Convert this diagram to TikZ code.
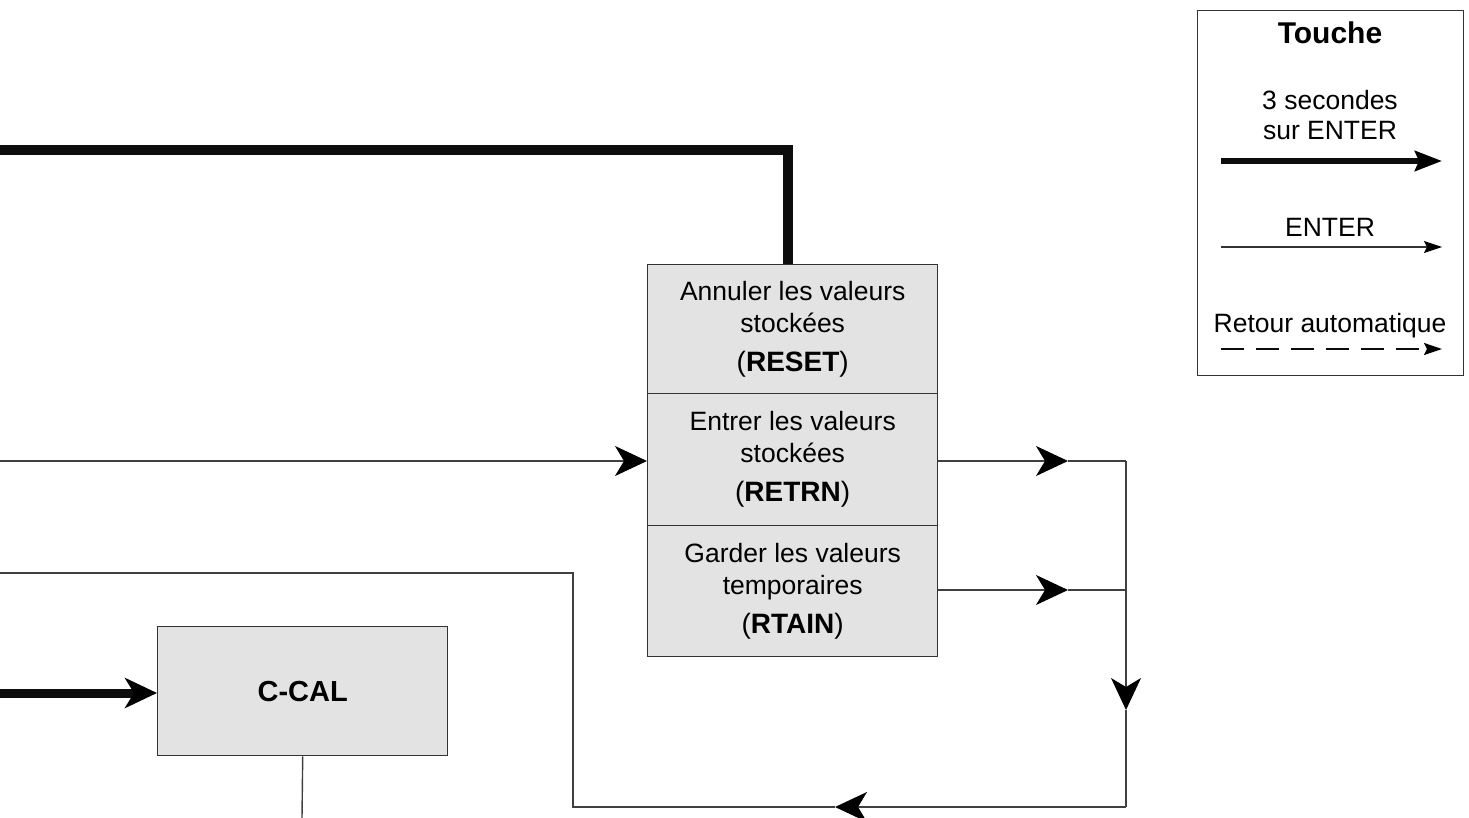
\documentclass[tikz,border=0pt]{standalone}
\usepackage{fontspec}
\setmainfont{Liberation Sans}
\usetikzlibrary{arrows.meta}
\begin{document}
\begin{tikzpicture}[x=1pt,y=-1pt,
  line join=miter,
  bigtip/.tip={Stealth[length=32pt,width=30pt,inset=9pt,color=black]},
  legthick/.tip={Stealth[length=27pt,width=20pt,inset=4pt,color=black]},
  legthin/.tip={Stealth[length=18pt,width=12pt,inset=3pt,color=black]},
  thinline/.style={line width=1.4pt, draw=black!75},
  heavyline/.style={line width=10pt, draw=black!95},
  rowbox/.style={draw=black!80, line width=1.4pt, fill=gray!22, anchor=north west,
    minimum width=290pt, inner sep=0pt, align=center,
    font=\fontsize{26.5}{32}\selectfont},
  keytext/.style={anchor=base, inner sep=0pt, font=\fontsize{26.5}{32}\selectfont}
]
\useasboundingbox (0,0) rectangle (1469,818);

% main box rows
\node[rowbox, minimum height=129pt] (r1) at (647,264)
  {Annuler les valeurs\\stockées\\[7pt]{\fontsize{28}{32}\selectfont(\textbf{RESET})}};
\node[rowbox, minimum height=132pt] (r2) at (647,393)
  {Entrer les valeurs\\stockées\\[7pt]{\fontsize{28}{32}\selectfont(\textbf{RETRN})}};
\node[rowbox, minimum height=131pt] (r3) at (647,525)
  {Garder les valeurs\\temporaires\\[7pt]{\fontsize{28}{32}\selectfont(\textbf{RTAIN})}};

% C-CAL box
\node[rowbox, minimum height=129pt, font=\fontsize{29}{32}\selectfont\bfseries] (cc) at (157,626) {C-CAL};

% coordinates
\coordinate (tl) at (0,150);
\coordinate (tc) at (788,150);
\coordinate (el) at (0,461);
\coordinate (ci) at (0,693);
\coordinate (a1) at (1068,461);
\coordinate (j1) at (1126,461);
\coordinate (a2) at (1068,590);
\coordinate (j2) at (1126,590);
\coordinate (a3) at (1126,710);
\coordinate (j3) at (1126,807);
\coordinate (a4) at (835,807);
\coordinate (j4) at (573,807);
\coordinate (j5) at (573,573);
\coordinate (le) at (0,573);
\coordinate (cb) at (302,818);

% connectors
\draw[heavyline] (tl) -- (tc) -- (tc |- r1.north);
\draw[thinline, -{bigtip}] (el) -- (el -| r2.west);
\draw[thinline, -{bigtip}] (a1 -| r2.east) -- (a1);
\draw[thinline] (a1) -- (j1);
\draw[thinline, -{bigtip}] (a2 -| r3.east) -- (a2);
\draw[thinline] (a2) -- (j2);
\draw[thinline, -{bigtip}] (j1) -- (a3);
\draw[thinline] (a3) -- (j3);
\draw[thinline, -{bigtip}] (j3) -- (a4);
\draw[thinline] (a4) -- (j4) -- (j5) -- (le);
\draw[heavyline, line width=9pt, -{bigtip}] (ci) -- (ci -| cc.west);
\draw[thinline] (cc.south) -- (cb);

% legend
\node[draw=black!80, line width=1.4pt, anchor=north west, minimum width=266pt,
  minimum height=365pt, inner sep=0pt] (leg) at (1197,10) {};
\node[keytext, font=\fontsize{30}{32}\selectfont\bfseries] (lt) at (1330,44) {Touche};
\node[keytext] (l1a) at (1330,109.5) {3 secondes};
\node[keytext] (l1b) at (1330,139.5) {sur ENTER};
\node[keytext] (l2) at (1330,236.5) {ENTER};
\node[keytext] (l3) at (1330,332.5) {Retour automatique};
\coordinate (k1s) at (1221,161);
\coordinate (k1e) at (1442,161);
\coordinate (k2s) at (1221,247);
\coordinate (k2e) at (1442,247);
\coordinate (k3s) at (1221,349);
\coordinate (k3e) at (1442,349);
\draw[line width=6pt, draw=black!95, -{legthick}] (k1s) -- (k1e);
\draw[line width=1.2pt, draw=black!80, -{legthin}] (k2s) -- (k2e);
\draw[line width=2.2pt, draw=black!95, dash pattern=on 23pt off 12pt, -{legthin}] (k3s) -- (k3e);
\end{tikzpicture}
\end{document}
